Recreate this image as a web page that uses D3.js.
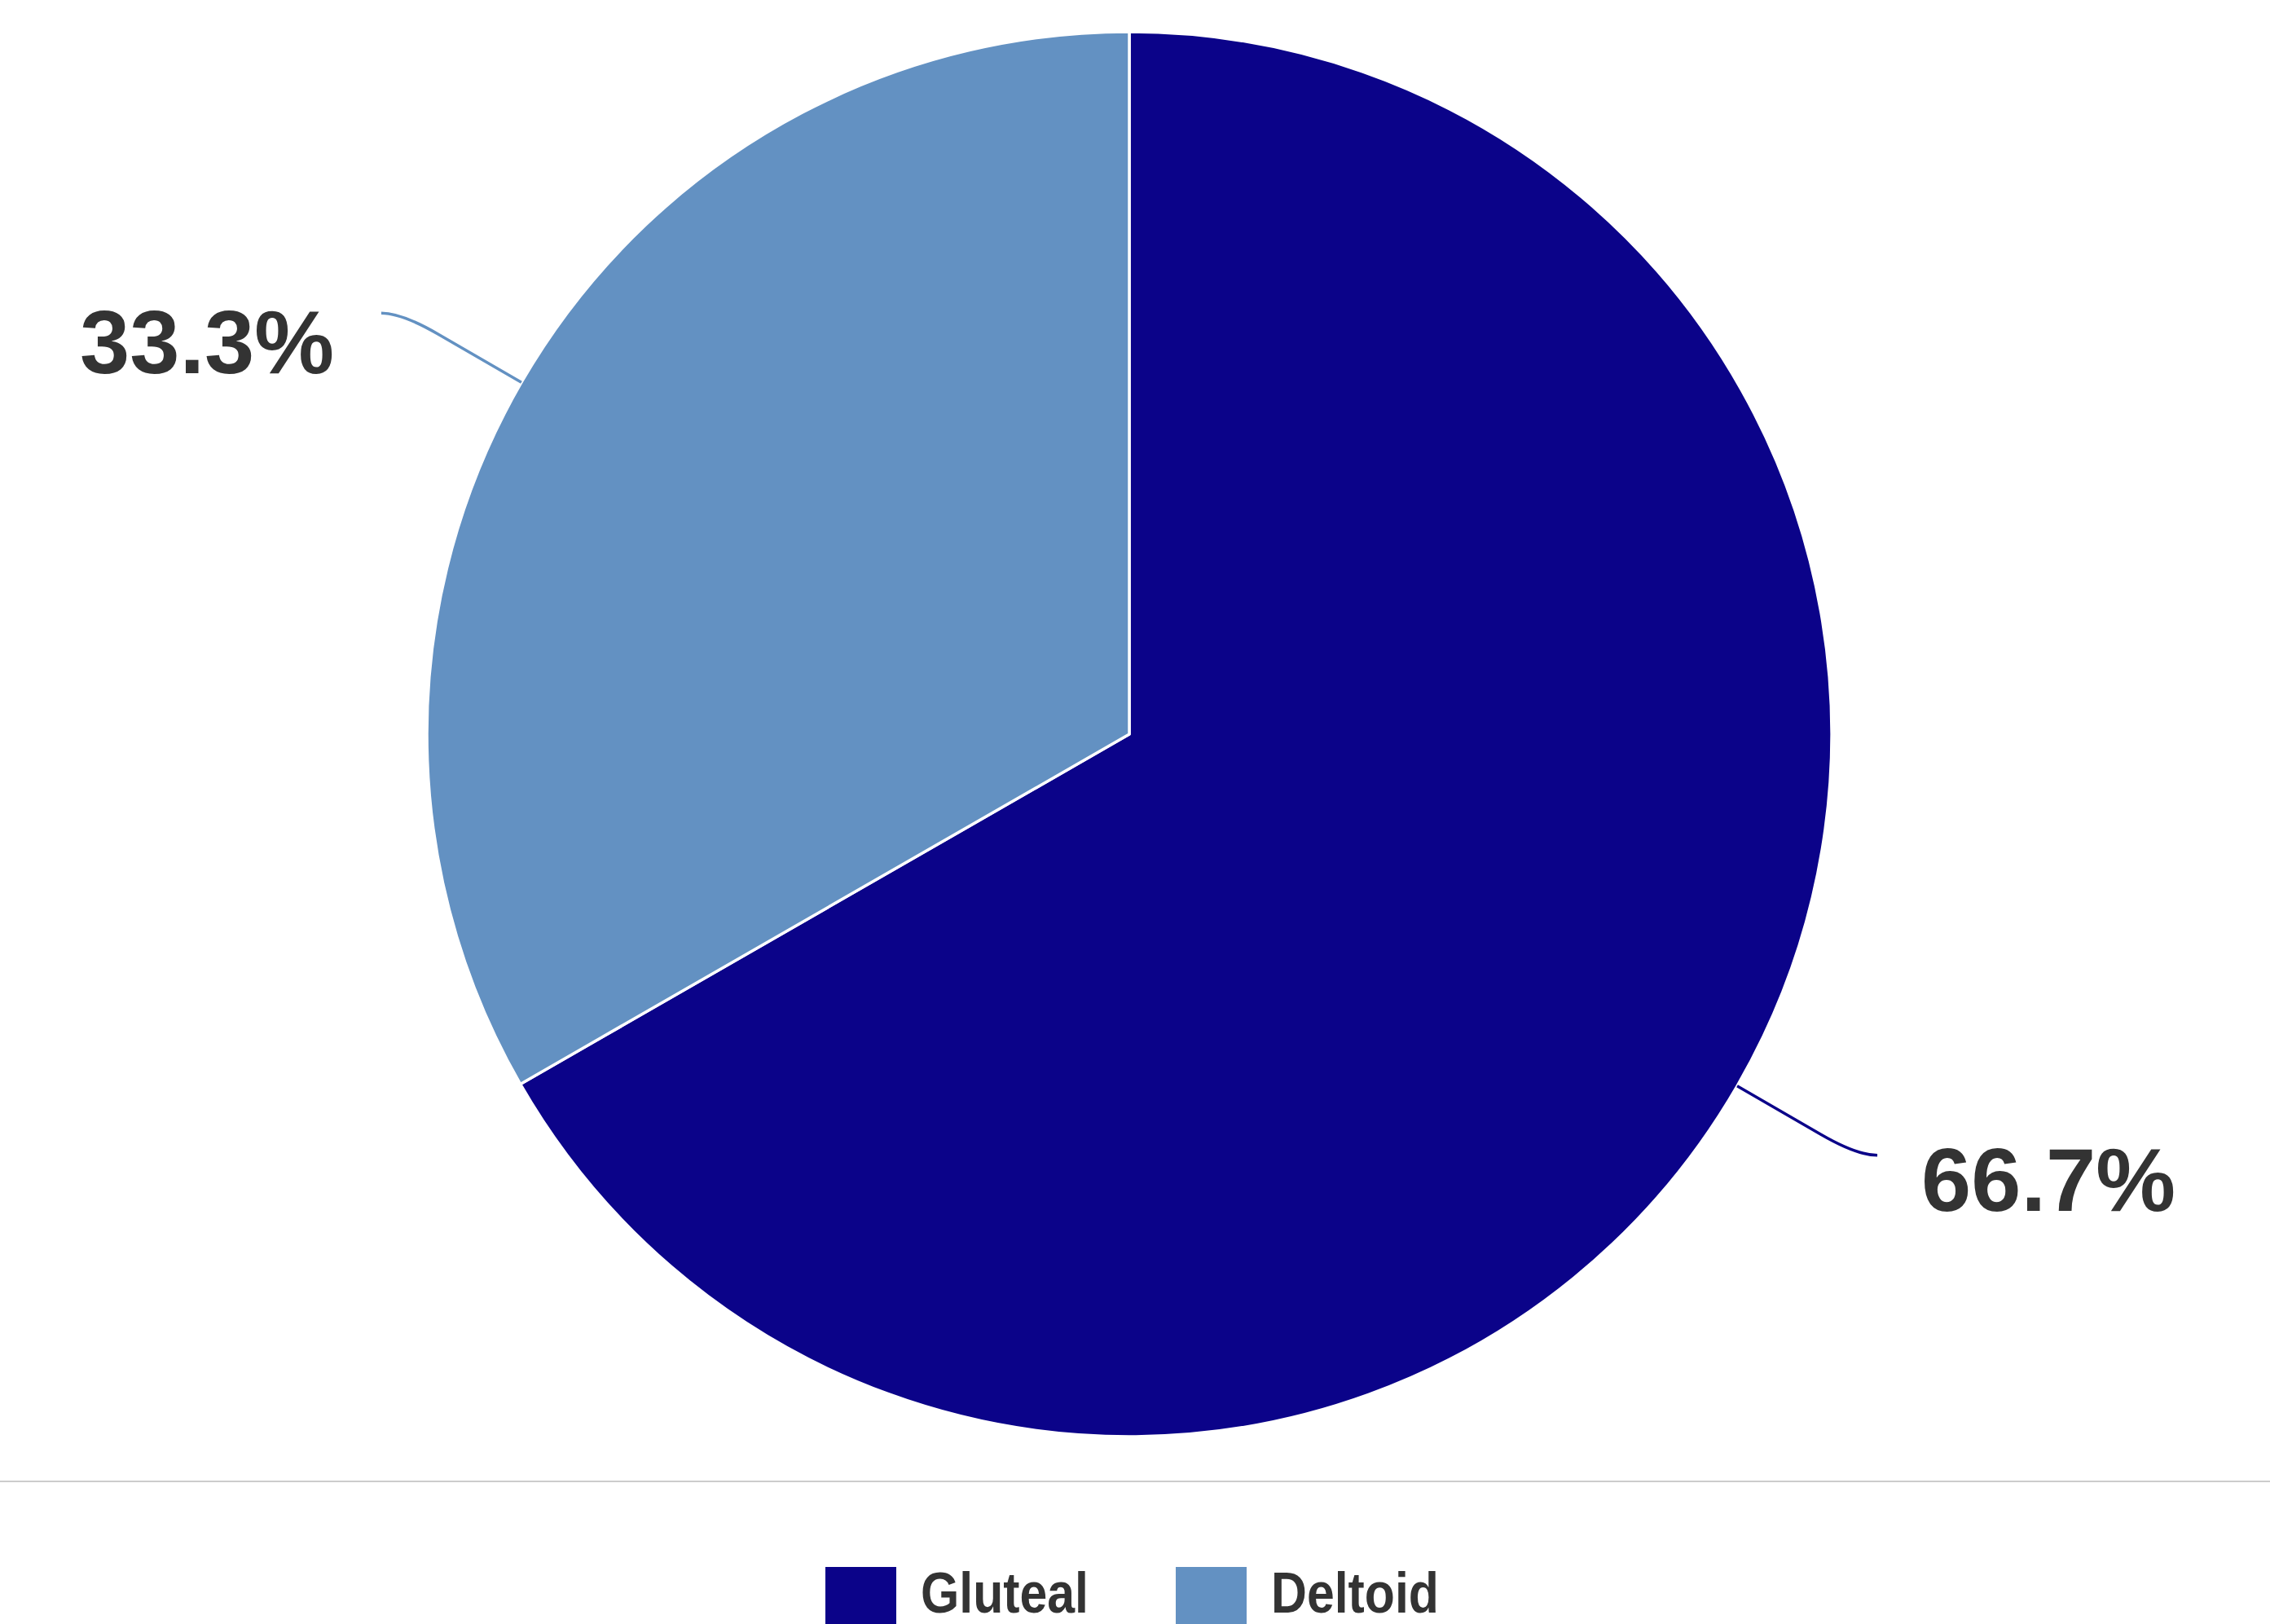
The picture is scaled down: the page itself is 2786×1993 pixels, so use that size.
<!DOCTYPE html>
<html>
<head>
<meta charset="utf-8">
<script src="https://cdn.jsdelivr.net/npm/d3@7"></script>
<style>
  body { margin: 0; background: #fff; }
  .pct { font-family: "Liberation Sans", Arial, sans-serif; font-weight: 700; fill: #333; }
  .leg { font-family: "Liberation Sans", Arial, sans-serif; font-weight: 700; fill: #333; }
</style>
</head>
<body>
<div id="chart"></div>
<script>
const categories = ["Gluteal", "Deltoid"];
const values = [66.7, 33.3];
const colors = ["#0b0389", "#6391c2"];

const width = 2786, height = 1993;
const cx = 1386, cy = 901, radius = 862;

const svg = d3.select('#chart')
  .append('svg')
  .attr('width', width)
  .attr('height', height);

const data = categories.map((c, i) => ({ name: c, value: values[i], color: colors[i] }));

const pie = d3.pie()
  .value(d => d.value)
  .sort(null);
const arcs = pie(data);

const arc = d3.arc().innerRadius(0).outerRadius(radius);
const edge = d3.arc().innerRadius(radius).outerRadius(radius);

const g = svg.append('g')
  .attr('transform', `translate(${cx},${cy})`);

g.selectAll('path.slice')
  .data(arcs)
  .join('path')
  .attr('class', 'slice')
  .attr('d', arc)
  .attr('fill', d => d.data.color)
  .attr('stroke', '#fff')
  .attr('stroke-width', 3.5)
  .attr('stroke-linejoin', 'round');

// connectors: radial run, then bend to horizontal
const dyRun = 85, dxEnd = 172;
g.selectAll('path.conn')
  .data(arcs)
  .join('path')
  .attr('class', 'conn')
  .attr('fill', 'none')
  .attr('stroke', d => d.data.color)
  .attr('stroke-width', 3.5)
  .attr('d', d => {
    const [x0, y0] = edge.centroid(d);
    const a = (d.startAngle + d.endAngle) / 2;
    const ux = Math.sin(a), uy = -Math.cos(a);
    const sx = ux >= 0 ? 1 : -1, sy = uy >= 0 ? 1 : -1;
    const len = dyRun / Math.abs(uy);
    const ax = x0 + ux * len * 0.7, ay = y0 + uy * len * 0.7;
    const qx = x0 + ux * len, qy = y0 + uy * len;
    const ex = x0 + sx * dxEnd, ey = y0 + sy * dyRun;
    return `M${x0},${y0}L${ax},${ay}Q${qx},${qy} ${ex},${ey}`;
  });

g.selectAll('text.pct')
  .data(arcs)
  .join('text')
  .attr('class', 'pct')
  .attr('font-size', 110)
  .each(function(d) {
    const [x0, y0] = edge.centroid(d);
    const a = (d.startAngle + d.endAngle) / 2;
    const right = Math.sin(a) >= 0;
    const down = -Math.cos(a) >= 0;
    const ex = x0 + (right ? dxEnd : -dxEnd);
    const ey = y0 + (down ? dyRun : -dyRun);
    d3.select(this)
      .attr('x', right ? ex + 54 : ex - 58)
      .attr('y', ey + (down ? 68 : 74))
      .attr('text-anchor', right ? 'start' : 'end')
      .text(d.data.value.toFixed(1) + '%');
  });

// separator
svg.append('line')
  .attr('x1', 0).attr('x2', width)
  .attr('y1', 1818).attr('y2', 1818)
  .attr('stroke', '#cccccc')
  .attr('stroke-width', 2);

// legend
const legendX = d3.scaleOrdinal().domain(categories).range([1013, 1443]);
const leg = svg.append('g')
  .selectAll('g')
  .data(data)
  .join('g')
  .attr('transform', d => `translate(${legendX(d.name)},1923)`);

leg.append('rect')
  .attr('width', 87)
  .attr('height', 87)
  .attr('fill', d => d.color);

leg.append('text')
  .attr('class', 'leg')
  .attr('x', 117)
  .attr('y', 56)
  .attr('font-size', 70)
  .attr('textLength', 206)
  .attr('lengthAdjust', 'spacingAndGlyphs')
  .text(d => d.name);
</script>
</body>
</html>
